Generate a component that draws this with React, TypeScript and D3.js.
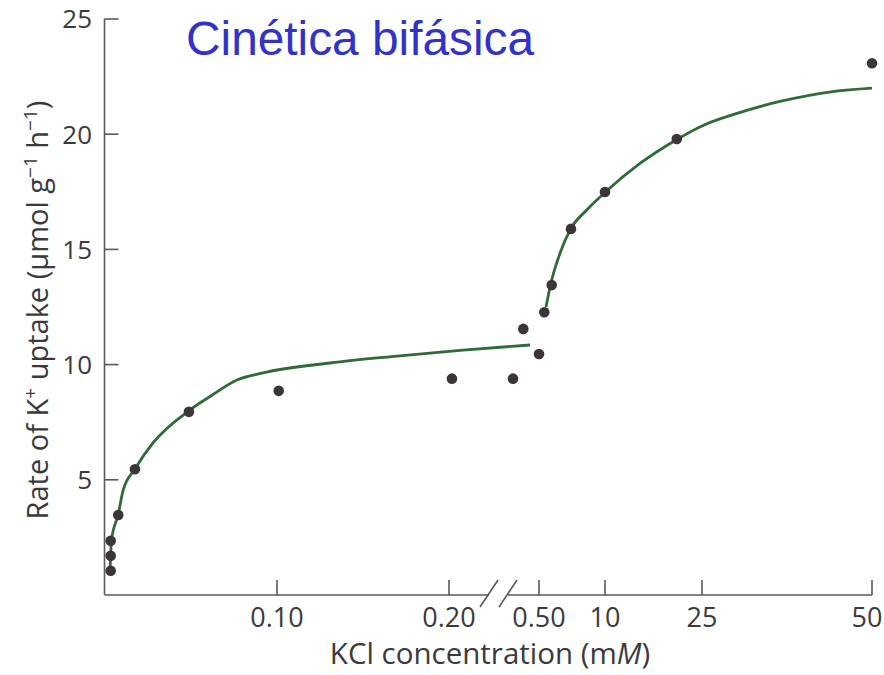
import React from "react";
import * as d3 from "d3";

// ---- Data ----
const yTicks = [5, 10, 15, 20, 25];
const xTicksLow = [0.1, 0.2];
const xTickLabelsLow = ["0.10", "0.20"];
const xTicksHigh = [0.5, 10, 25, 50];
const xTickLabelsHigh = ["0.50", "10", "25", "50"];

// measured points, low-concentration segment (0 – 0.2 mM)
const lowConc = [0.0033, 0.0033, 0.0033, 0.0077, 0.0174, 0.0488, 0.101, 0.2017, 0.2372, 0.2432];
const lowRate = [1.05, 1.7, 2.35, 3.47, 5.46, 7.95, 8.86, 9.39, 9.39, 11.55];

// measured points, high-concentration segment (0.5 – 50 mM)
const highConc = [0.5, 1.26, 2.33, 5.1, 10, 21.1, 50];
const highRate = [10.46, 12.27, 13.45, 15.89, 17.49, 19.79, 23.08];

// fitted curves as drawn
const lowFitConc = [0.0029, 0.0038, 0.0076, 0.0106, 0.0174, 0.0279, 0.0488, 0.062, 0.0767, 0.0919, 0.1308, 0.1698, 0.2081, 0.2471];
const lowFitRate = [1.0, 2.39, 3.47, 4.56, 5.47, 6.6, 8.0, 8.66, 9.33, 9.64, 10.07, 10.37, 10.63, 10.85];

const highFitConc = [1.51, 2.18, 3.52, 5.06, 7.37, 10.1, 15.41, 20.98, 25, 29.56, 36.47, 44.26, 50];
const highFitRate = [12.5, 13.49, 14.83, 15.89, 16.71, 17.5, 18.73, 19.75, 20.36, 20.85, 21.42, 21.85, 22.0];

const W = 884;
const H = 675;
const AXIS = "#5a5a5a";
const TEXT = "#3a3a3a";
const DOT = "#3b3439";
const LINE = "#2f6b36";
const FONT = "'Open Sans', 'Noto Sans', sans-serif";

export default function App() {
  const y = d3.scaleLinear().domain([0, 25]).range([595, 19]);
  const xLow = d3.scaleLinear().domain([0, 0.2]).range([105, 449]);
  const xHigh = d3.scaleLinear().domain([0.5, 10, 25, 50]).range([539, 605, 702, 872]);

  const lineLow = d3
    .line<number>()
    .x((_, i) => xLow(lowFitConc[i]))
    .y((_, i) => y(lowFitRate[i]))
    .curve(d3.curveMonotoneX);
  const lineHigh = d3
    .line<number>()
    .x((_, i) => xHigh(highFitConc[i]))
    .y((_, i) => y(highFitRate[i]))
    .curve(d3.curveMonotoneX);

  const y0 = y(0);
  const axisX = 104.5;
  const breakL = 489;
  const breakR = 508;

  return (
    <svg
      width={W}
      height={H}
      style={{ position: "absolute", left: 0, top: 0, background: "#fff" }}
    >
      {/* Title */}
      <text x={186} y={55} fill="#3232c8" fontFamily="'Liberation Sans', Arial, sans-serif" fontSize={47.8}>
        Cinética bifásica
      </text>

      {/* Y axis */}
      <line x1={axisX} x2={axisX} y1={y(25)} y2={y0} stroke={AXIS} strokeWidth={1.6} />
      {yTicks.map((t) => (
        <g key={t}>
          <line x1={axisX} x2={axisX + 14} y1={y(t)} y2={y(t)} stroke={AXIS} strokeWidth={1.6} />
          <text
            x={92}
            y={y(t)}
            dy="0.36em"
            textAnchor="end"
            fill={TEXT}
            fontFamily={FONT}
            fontSize={26}
          >
            {t}
          </text>
        </g>
      ))}

      {/* X axis with break */}
      <line x1={axisX} x2={breakL} y1={y0} y2={y0} stroke={AXIS} strokeWidth={1.6} />
      <line x1={breakR} x2={xHigh(50)} y1={y0} y2={y0} stroke={AXIS} strokeWidth={1.6} />
      <line x1={480} y1={607} x2={498} y2={580} stroke={AXIS} strokeWidth={1.6} />
      <line x1={499} y1={607} x2={517} y2={580} stroke={AXIS} strokeWidth={1.6} />
      {xTicksLow.map((t, i) => (
        <g key={"l" + t}>
          <line x1={xLow(t)} x2={xLow(t)} y1={y0} y2={y0 - 15} stroke={AXIS} strokeWidth={1.6} />
          <text x={xLow(t)} y={627} textAnchor="middle" fill={TEXT} fontFamily={FONT} fontSize={27}>
            {xTickLabelsLow[i]}
          </text>
        </g>
      ))}
      {xTicksHigh.map((t, i) => (
        <g key={"h" + t}>
          <line x1={xHigh(t)} x2={xHigh(t)} y1={y0} y2={y0 - 15} stroke={AXIS} strokeWidth={1.6} />
          <text
            x={Math.min(xHigh(t), W - 17)}
            y={627}
            textAnchor="middle"
            fill={TEXT}
            fontFamily={FONT}
            fontSize={27}
          >
            {xTickLabelsHigh[i]}
          </text>
        </g>
      ))}

      {/* Axis titles */}
      <text x={490} y={664} textAnchor="middle" fill={TEXT} fontFamily={FONT} fontSize={29.5}>
        KCl concentration (m<tspan fontStyle="italic">M</tspan>)
      </text>
      <text
        transform="translate(48,310) rotate(-90)"
        textAnchor="middle"
        fill={TEXT}
        fontFamily={FONT}
        fontSize={29}
      >
        Rate of K<tspan fontSize={19} dy={-11}>+</tspan>
        <tspan dy={11}> uptake (μmol g</tspan>
        <tspan fontSize={19} dy={-11}>−1</tspan>
        <tspan dy={11}> h</tspan>
        <tspan fontSize={19} dy={-11}>−1</tspan>
        <tspan dy={11}>)</tspan>
      </text>

      {/* Fitted curves */}
      <path d={lineLow(lowFitConc) || ""} fill="none" stroke={LINE} strokeWidth={2.8} />
      <path d={lineHigh(highFitConc) || ""} fill="none" stroke={LINE} strokeWidth={2.8} />

      {/* Data points */}
      {lowConc.map((c, i) => (
        <circle key={"lp" + i} cx={xLow(c)} cy={y(lowRate[i])} r={5.3} fill={DOT} />
      ))}
      {highConc.map((c, i) => (
        <circle key={"hp" + i} cx={xHigh(c)} cy={y(highRate[i])} r={5.3} fill={DOT} />
      ))}
    </svg>
  );
}
